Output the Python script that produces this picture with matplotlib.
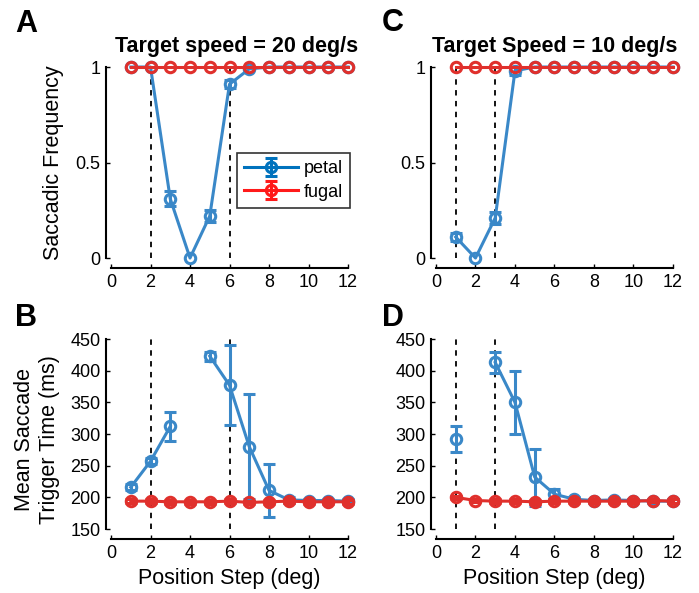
import numpy as np
import matplotlib
matplotlib.use("Agg")
import matplotlib.pyplot as plt

plt.rcParams["font.family"] = ["Liberation Sans", "DejaVu Sans"]

steps = np.arange(1, 13)

# A: saccadic frequency, 20 deg/s
freq20_petal = [1, 1, 0.31, 0.0, 0.22, 0.91, 0.99, 1, 1, 1, 1, 1]
freq20_petal_err = [0, 0, 0.04, 0, 0.03, 0.02, 0, 0, 0, 0, 0, 0]
freq20_fugal = [1] * 12
freq20_fugal_err = [0] * 12

# C: saccadic frequency, 10 deg/s
freq10_petal = [0.11, 0.0, 0.21, 0.98, 1, 1, 1, 1, 1, 1, 1, 1]
freq10_petal_err = [0.02, 0, 0.03, 0.02, 0, 0, 0, 0, 0, 0, 0, 0]
freq10_fugal = [1] * 12
freq10_fugal_err = [0] * 12

# B: trigger time, 20 deg/s
time20_petal = [216, 257, 312, np.nan, 423, 377, 280, 211, 196, 195, 195, 194]
time20_petal_err = [5, 5, 23, np.nan, 7, 63, 83, 42, 5, 3, 3, 3]
time20_fugal = [194, 194, 193, 193, 193, 194, 192, 193, 194, 193, 193, 193]
time20_fugal_err = [3, 3, 3, 3, 3, 3, 3, 3, 3, 3, 3, 3]

# D: trigger time, 10 deg/s
time10_petal = [292, np.nan, 413, 350, 232, 205, 197, 195, 196, 195, 194, 194]
time10_petal_err = [21, np.nan, 16, 50, 45, 8, 4, 3, 3, 3, 3, 3]
time10_fugal = [200, 195, 194, 194, 193, 194, 194, 194, 194, 194, 195, 194]
time10_fugal_err = [2, 3, 3, 3, 3, 3, 3, 3, 3, 3, 3, 3]

markers20 = [2, 6]
markers10 = [1, 3]

blue = "#3a88c8"
red = "#e0302c"

fig = plt.figure(figsize=(6.99, 5.93), dpi=100)
axA = fig.add_axes([0.1588, 0.5649, 0.3391, 0.3221])
axC = fig.add_axes([0.6237, 0.5649, 0.3391, 0.3221])
axB = fig.add_axes([0.1588, 0.1079, 0.3391, 0.3204])
axD = fig.add_axes([0.6237, 0.1079, 0.3391, 0.3204])

kw = dict(marker="o", ms=7.5, mfc="none", mew=2.2, lw=2.2, capsize=4.5,
          capthick=2.2, elinewidth=2.2)


def draw(ax, petal, perr, fugal, ferr, vlines):
    for v in vlines:
        ax.axvline(v, color="black", ls=(0, (3, 3)), lw=1.3, zorder=1)
    for vals, err, c, z in [(petal, perr, blue, 3), (fugal, ferr, red, 4)]:
        err = [e if e else np.nan for e in err]
        eb = ax.errorbar(steps, vals, yerr=err, color=c, zorder=z, **kw)
        for art in (eb.lines[0],) + eb.lines[1] + eb.lines[2]:
            art.set_clip_on(False)
    ax.set_xlim(0, 12)
    ax.set_xticks(range(0, 13, 2))
    for s in ["top", "right"]:
        ax.spines[s].set_visible(False)
    ax.spines["left"].set_position(("outward", 3.6))
    ax.spines["bottom"].set_position(("outward", 7.5))
    ax.tick_params(direction="in", length=3, width=1, labelsize=13, pad=4)
    ax.spines["left"].set_linewidth(1.5)
    ax.spines["bottom"].set_linewidth(1.5)


draw(axA, freq20_petal, freq20_petal_err, freq20_fugal, freq20_fugal_err, markers20)
draw(axC, freq10_petal, freq10_petal_err, freq10_fugal, freq10_fugal_err, markers10)
draw(axB, time20_petal, time20_petal_err, time20_fugal, time20_fugal_err, markers20)
draw(axD, time10_petal, time10_petal_err, time10_fugal, time10_fugal_err, markers10)

for ax in (axA, axC):
    ax.set_ylim(0, 1)
    ax.set_yticks([0, 0.5, 1])
    ax.set_yticklabels(["0", "0.5", "1"])
for ax in (axB, axD):
    ax.set_ylim(150, 450)
    ax.set_yticks(range(150, 451, 50))
    ax.set_xlabel("Position Step (deg)", fontsize=15.5, labelpad=4)

axA.set_title("Target speed = 20 deg/s", fontsize=15.5, fontweight="bold", pad=11, x=0.53)
axC.set_title("Target Speed = 10 deg/s", fontsize=15.5, fontweight="bold", pad=11)

axA.set_ylabel("Saccadic Frequency", fontsize=15.5)
axA.yaxis.set_label_coords(-0.2, 0.5)
axB.set_ylabel("Mean Saccade\nTrigger Time (ms)", fontsize=15.5, linespacing=1.25)
axB.yaxis.set_label_coords(-0.215, 0.47)

# legend handles: errorbar entries with no visible data
hp = axA.errorbar([np.nan], [np.nan], yerr=[1], color="#0072bd", **kw)
hf = axA.errorbar([np.nan], [np.nan], yerr=[1], color="#ff1a1a", **kw)
leg = axA.legend([hp, hf], ["petal", "fugal"], loc="upper right",
                 bbox_to_anchor=(1.008, 0.55), fontsize=13, frameon=True,
                 fancybox=False, edgecolor="black", handlelength=3.0,
                 borderpad=0.4, labelspacing=0.35, handletextpad=0.3,
                 borderaxespad=0)
leg.get_frame().set_linewidth(1.2)

for lab, x, y in [("A", 15, 32), ("C", 382, 31), ("B", 15, 326), ("D", 382, 326)]:
    fig.text(x / 699, 1 - y / 593, lab, fontsize=22, fontweight="bold", va="baseline")

fig.savefig("out.png", dpi=100)
